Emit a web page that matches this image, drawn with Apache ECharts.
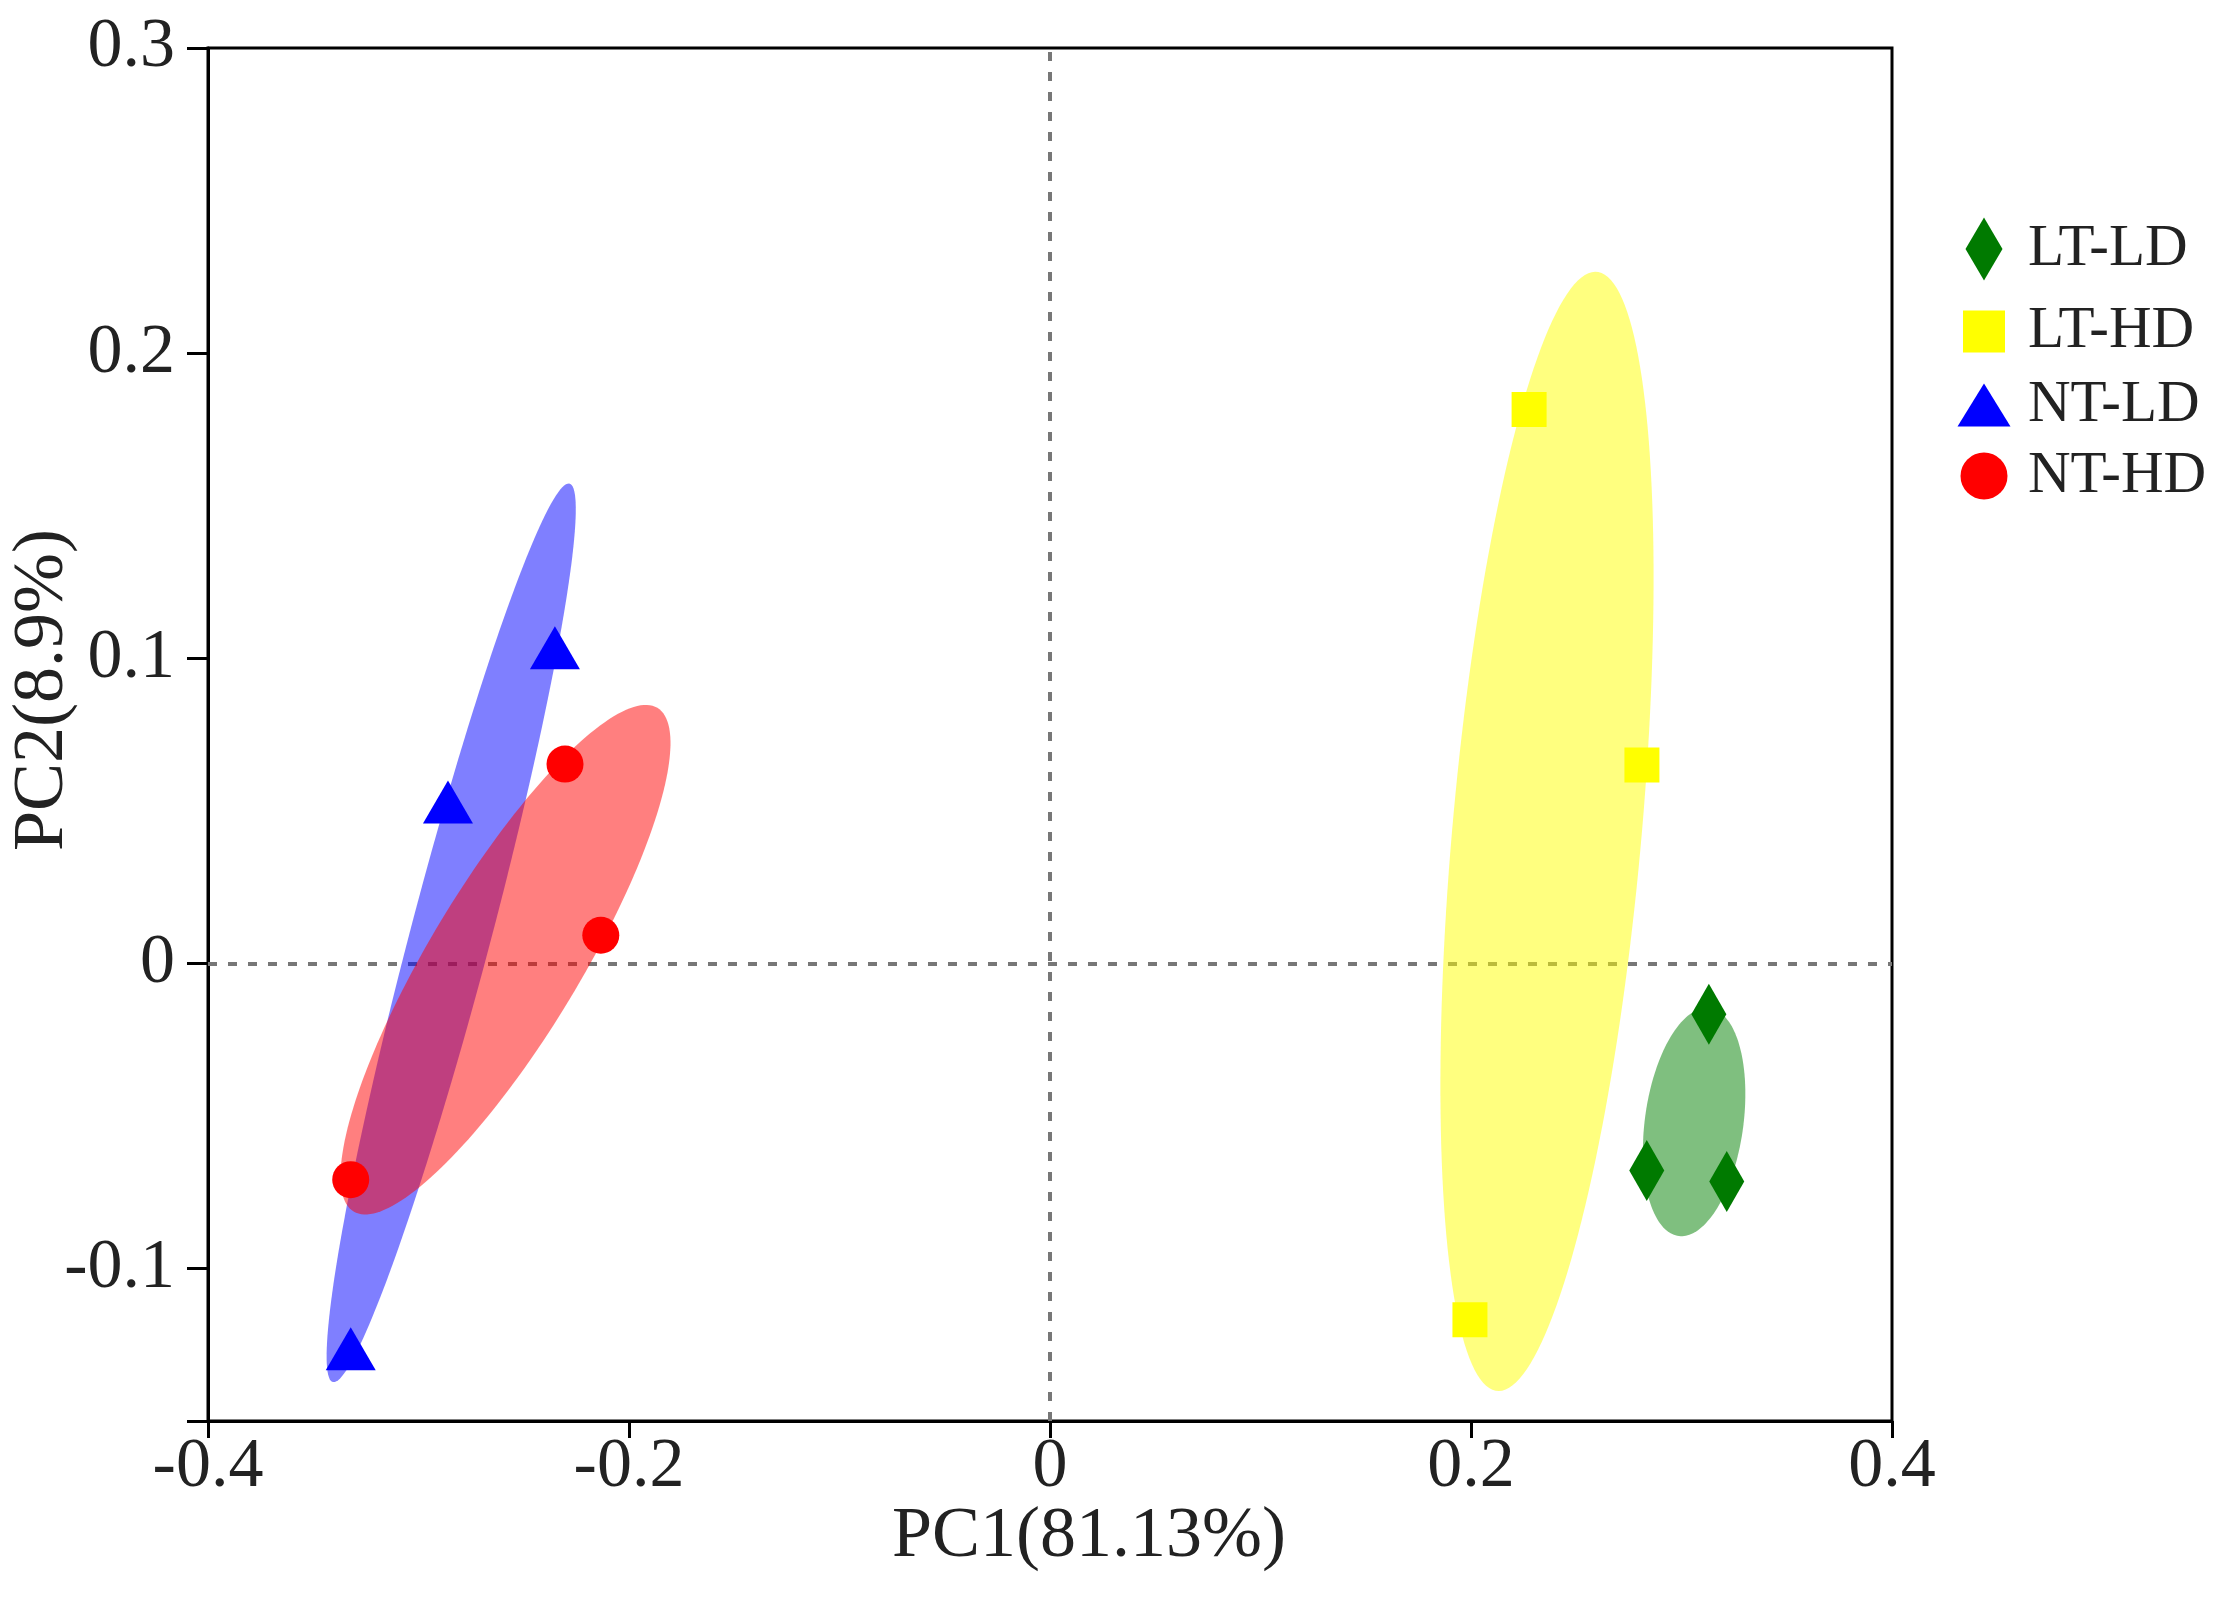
<!DOCTYPE html>
<html>
<head>
<meta charset="utf-8">
<title>PCA</title>
<script src="https://cdn.jsdelivr.net/npm/echarts@6/dist/echarts.min.js"></script>
<style>
  html, body { margin: 0; padding: 0; background: #fff; }
  #main { width: 2217px; height: 1597px; }
</style>
</head>
<body>
<div id="main"></div>
<script>
// group names, legend order
var groupNames = ['LT-LD', 'LT-HD', 'NT-LD', 'NT-HD'];

// PC1 / PC2 scores of every sample
var ltldX = [0.3130, 0.2835, 0.3215];
var ltldY = [-0.0167, -0.0679, -0.0715];
var lthdX = [0.2276, 0.2812, 0.1995];
var lthdY = [0.1815, 0.0650, -0.1168];
var ntldX = [-0.2352, -0.2860, -0.3322];
var ntldY = [0.1034, 0.0529, -0.1263];
var nthdX = [-0.2304, -0.2134, -0.3322];
var nthdY = [0.0653, 0.0092, -0.0709];

// tick labels
var xTicks = [-0.4, -0.2, 0, 0.2, 0.4];
var yTicks = [-0.1, 0, 0.1, 0.2, 0.3];

// size of the group ellipse, in standard deviations
var ELLIPSE_SCALE = 1.22;

var FONT = "'Liberation Serif', 'Times New Roman', serif";
var TEXT = '#222';

function pairs(xs, ys) {
    return xs.map(function (x, i) { return [x, ys[i]]; });
}

// covariance ellipse of one group (centre = group mean)
function ellipseOf(xs, ys, color) {
    var n = xs.length, mx = 0, my = 0, sxx = 0, syy = 0, sxy = 0;
    for (var i = 0; i < n; i++) { mx += xs[i]; my += ys[i]; }
    mx /= n; my /= n;
    for (var j = 0; j < n; j++) {
        var dx = xs[j] - mx, dy = ys[j] - my;
        sxx += dx * dx; syy += dy * dy; sxy += dx * dy;
    }
    sxx /= (n - 1); syy /= (n - 1); sxy /= (n - 1);
    var half = (sxx + syy) / 2;
    var d = Math.sqrt(Math.pow((sxx - syy) / 2, 2) + sxy * sxy);
    return {
        cx: mx, cy: my,
        a: ELLIPSE_SCALE * Math.sqrt(half + d),
        b: ELLIPSE_SCALE * Math.sqrt(Math.max(half - d, 0)),
        ang: 0.5 * Math.atan2(2 * sxy, sxx - syy),
        color: color
    };
}

// drawing order: red over blue
var ellipses = [
    ellipseOf(lthdX, lthdY, 'rgba(255,255,0,0.5)'),
    ellipseOf(ltldX, ltldY, 'rgba(0,128,0,0.5)'),
    ellipseOf(ntldX, ntldY, 'rgba(0,0,255,0.5)'),
    ellipseOf(nthdX, nthdY, 'rgba(255,0,0,0.5)')
];

var myChart = echarts.init(document.getElementById('main'), null, { renderer: 'canvas' });

// legend, one block per group so every icon keeps its own size
var legendIcons = ['diamond', 'rect', 'triangle', 'circle'];
var legendSizes = [[37, 63], [42, 42], [53, 43], [47, 47]];
var legendRows = [249, 323, 397, 470];
var legends = groupNames.map(function (name, i) {
    var w = legendSizes[i][0], h = legendSizes[i][1];
    return {
        left: 1984 - w / 2,
        top: legendRows[i] - h / 2,
        padding: 0,
        itemWidth: w,
        itemHeight: h,
        selectedMode: false,
        data: [{ name: name, icon: legendIcons[i] }],
        textStyle: {
            fontFamily: FONT,
            fontSize: 59,
            lineHeight: 40,
            color: TEXT,
            padding: [0, 0, 0, 39 - w / 2]
        }
    };
});

var option = {
    backgroundColor: '#fff',
    animation: false,
    legend: legends,
    grid: {
        left: 208,
        right: 325,
        top: 48,
        bottom: 176,
        show: true,
        borderColor: '#000',
        borderWidth: 3,
        outerBoundsMode: 'none'
    },
    xAxis: {
        type: 'value',
        min: -0.4,
        max: 0.4,
        interval: 0.2,
        name: 'PC1(81.13%)',
        nameLocation: 'middle',
        nameGap: 80,
        nameMoveOverlap: false,
        nameTextStyle: { fontFamily: FONT, fontSize: 72, color: TEXT, padding: [0, 0, 0, 78] },
        axisLine: { onZero: false, lineStyle: { color: '#000', width: 3 } },
        axisTick: { show: true, length: 17, customValues: xTicks, lineStyle: { color: '#000', width: 3 } },
        axisLabel: { customValues: xTicks, margin: 12, fontFamily: FONT, fontSize: 70, color: TEXT },
        splitLine: { show: false }
    },
    yAxis: {
        type: 'value',
        min: -0.15,
        max: 0.3,
        name: 'PC2(8.9%)',
        nameLocation: 'middle',
        nameGap: 129,
        nameMoveOverlap: false,
        nameTextStyle: { fontFamily: FONT, fontSize: 72, color: TEXT, padding: [0, 0, 0, 89] },
        axisLine: { onZero: false, lineStyle: { color: '#000', width: 3 } },
        axisTick: { show: true, length: 21, customValues: [-0.15].concat(yTicks), lineStyle: { color: '#000', width: 3 } },
        axisLabel: { customValues: yTicks, margin: 33, fontFamily: FONT, fontSize: 70, color: TEXT },
        splitLine: { show: false }
    },
    series: [
        {
            type: 'custom',
            z: 2,
            silent: true,
            data: ellipses.map(function (e) { return [e.cx, e.cy]; }),
            renderItem: function (params, api) {
                var e = ellipses[params.dataIndex];
                var ca = Math.cos(e.ang), sa = Math.sin(e.ang);
                var pts = [];
                for (var k = 0; k < 180; k++) {
                    var t = k / 180 * Math.PI * 2;
                    var u = e.a * Math.cos(t), v = e.b * Math.sin(t);
                    pts.push(api.coord([e.cx + u * ca - v * sa, e.cy + u * sa + v * ca]));
                }
                return { type: 'polygon', shape: { points: pts }, style: { fill: e.color } };
            },
            markLine: {
                silent: true,
                z: 1,
                symbol: 'none',
                label: { show: false },
                lineStyle: { color: '#777', width: 4, type: [9, 11], opacity: 1 },
                emphasis: { disabled: true },
                data: [{ xAxis: 0 }, { yAxis: 0 }]
            }
        },
        {
            name: 'LT-LD', type: 'scatter', z: 3,
            symbol: 'diamond', symbolSize: [35, 61],
            itemStyle: { color: '#007a00', opacity: 1 },
            data: pairs(ltldX, ltldY)
        },
        {
            name: 'LT-HD', type: 'scatter', z: 3,
            symbol: 'rect', symbolSize: 35,
            itemStyle: { color: '#ffff00', opacity: 1 },
            data: pairs(lthdX, lthdY)
        },
        {
            name: 'NT-LD', type: 'scatter', z: 3,
            symbol: 'triangle', symbolSize: [50, 43],
            itemStyle: { color: '#0000ff', opacity: 1 },
            data: pairs(ntldX, ntldY)
        },
        {
            name: 'NT-HD', type: 'scatter', z: 3,
            symbol: 'circle', symbolSize: 37,
            itemStyle: { color: '#ff0000', opacity: 1 },
            data: pairs(nthdX, nthdY)
        }
    ]
};

myChart.setOption(option);
</script>
</body>
</html>
